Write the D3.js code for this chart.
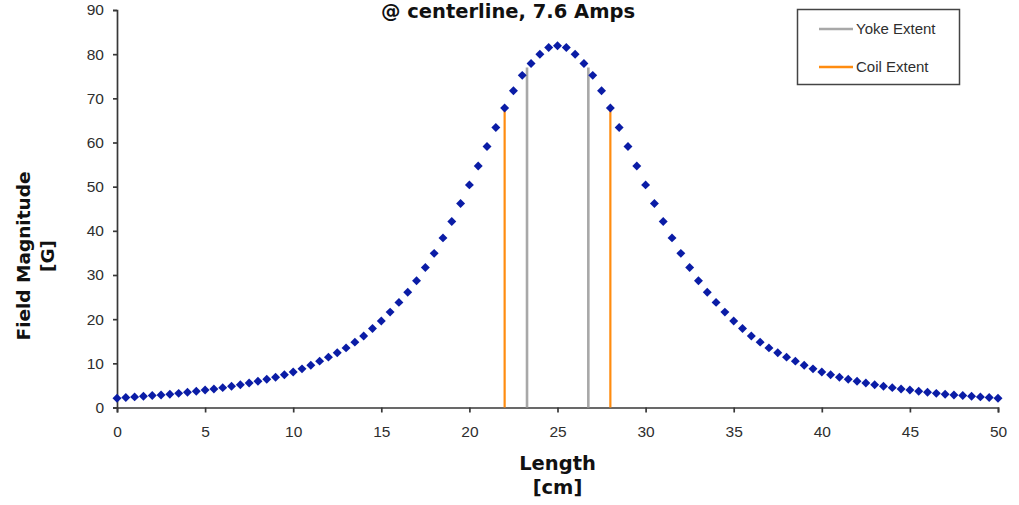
<!DOCTYPE html>
<html>
<head>
<meta charset="utf-8">
<script src="https://cdn.jsdelivr.net/npm/d3@7"></script>
<style>
  html, body { margin: 0; padding: 0; background: #fff; }
  svg { display: block; }
</style>
</head>
<body>
<svg id="chart" width="1019" height="505"></svg>
<script>
// ---- data ----
const lengthCm = [
  0, 0.5, 1, 1.5, 2, 2.5, 3, 3.5, 4, 4.5, 5, 5.5, 6, 6.5, 7, 7.5, 8, 8.5, 9, 9.5,
  10, 10.5, 11, 11.5, 12, 12.5, 13, 13.5, 14, 14.5, 15, 15.5, 16, 16.5, 17, 17.5, 18, 18.5, 19, 19.5,
  20, 20.5, 21, 21.5, 22, 22.5, 23, 23.5, 24, 24.5, 25, 25.5, 26, 26.5, 27, 27.5, 28, 28.5, 29, 29.5,
  30, 30.5, 31, 31.5, 32, 32.5, 33, 33.5, 34, 34.5, 35, 35.5, 36, 36.5, 37, 37.5, 38, 38.5, 39, 39.5,
  40, 40.5, 41, 41.5, 42, 42.5, 43, 43.5, 44, 44.5, 45, 45.5, 46, 46.5, 47, 47.5, 48, 48.5, 49, 49.5, 50
];
const fieldG = [
  2.1, 2.25, 2.4, 2.55, 2.7, 2.85, 3.0, 3.2, 3.45, 3.7, 3.95, 4.2, 4.5, 4.8, 5.15, 5.55, 5.95, 6.4, 6.85, 7.4,
  8.05, 8.75, 9.55, 10.5, 11.4, 12.4, 13.5, 14.8, 16.2, 17.9, 19.6, 21.6, 23.8, 26.1, 28.7, 31.7, 34.9, 38.4, 42.1, 46.2,
  50.4, 54.7, 59.1, 63.4, 67.8, 71.7, 75.2, 77.9, 80.0, 81.5, 81.9, 81.5, 80.0, 77.9, 75.2, 71.7, 67.8, 63.4, 59.1, 54.7,
  50.4, 46.2, 42.1, 38.4, 34.9, 31.7, 28.7, 26.1, 23.8, 21.6, 19.6, 17.9, 16.2, 14.8, 13.5, 12.4, 11.4, 10.5, 9.55, 8.75,
  8.05, 7.4, 6.85, 6.4, 5.95, 5.55, 5.15, 4.8, 4.5, 4.2, 3.95, 3.7, 3.45, 3.2, 3.0, 2.85, 2.7, 2.55, 2.4, 2.25, 2.1
];
const yokeExtentX = [23.27, 26.75];
const yokeExtentTop = [77.0, 77.0];
const coilExtentX = [22.0, 28.0];
const coilExtentTop = [67.5, 67.5];
const xTicks = [0, 5, 10, 15, 20, 25, 30, 35, 40, 45, 50];
const yTicks = [0, 10, 20, 30, 40, 50, 60, 70, 80, 90];
const legendLabels = ["Yoke Extent", "Coil Extent"];
const titleText = "@ centerline, 7.6 Amps";
const xTitle = ["Length", "[cm]"];
const yTitle = ["Field Magnitude", "[G]"];

// ---- drawing ----
const svg = d3.select("#chart");
const x = d3.scaleLinear().domain([0, 50]).range([117, 998]);
const y = d3.scaleLinear().domain([0, 90]).range([407.5, 10]);

const axisColor = "#383838";
const textColor = "#2e2e2e";
const pointColor = "#0a1ca6";
const yokeColor = "#a8a8a8";
const coilColor = "#ff8c10";

// x axis
const gx = svg.append("g").attr("transform", `translate(0,${y(0)})`)
  .call(d3.axisBottom(x).tickValues(xTicks).tickSize(5).tickPadding(13).tickFormat(d3.format("d")));
// y axis
const gy = svg.append("g").attr("transform", `translate(${x(0)},0)`)
  .call(d3.axisLeft(y).tickValues(yTicks).tickSize(4).tickPadding(9).tickFormat(d3.format("d")));
[gx, gy].forEach(g => {
  g.select(".domain").attr("stroke", axisColor).attr("stroke-width", 1.7);
  g.selectAll(".tick line").attr("stroke", axisColor).attr("stroke-width", 1.7);
  g.selectAll(".tick text").attr("fill", textColor)
    .style("font-family", "'Liberation Sans', Arial, sans-serif").style("font-size", "15.5px");
});

// extent lines
const extents = [
  { xs: yokeExtentX, tops: yokeExtentTop, color: yokeColor, w: 2.6 },
  { xs: coilExtentX, tops: coilExtentTop, color: coilColor, w: 2.2 }
];
extents.forEach(e => {
  e.xs.forEach((xv, i) => {
    svg.append("line")
      .attr("x1", x(xv)).attr("x2", x(xv))
      .attr("y1", y(0)).attr("y2", y(e.tops[i]))
      .attr("stroke", e.color).attr("stroke-width", e.w);
  });
});

// points (diamonds)
const diamond = d3.symbol().type(d3.symbolSquare).size(40);
svg.append("g").selectAll("path")
  .data(lengthCm.map((l, i) => [l, fieldG[i]]))
  .join("path")
  .attr("d", diamond)
  .attr("transform", d => `translate(${x(d[0])},${y(d[1])}) rotate(45)`)
  .attr("fill", pointColor);

// title
svg.append("text")
  .attr("x", 508).attr("y", 18)
  .attr("text-anchor", "middle")
  .style("font-family", "'DejaVu Sans', Verdana, sans-serif")
  .style("font-weight", "bold").style("font-size", "19.5px")
  .attr("fill", "#111")
  .text(titleText);

// x title
xTitle.forEach((t, i) => {
  svg.append("text")
    .attr("x", (x(0) + x(50)) / 2).attr("y", 470 + i * 24)
    .attr("text-anchor", "middle")
    .style("font-family", "'DejaVu Sans', Verdana, sans-serif")
    .style("font-weight", "bold").style("font-size", "19.5px")
    .attr("fill", "#111")
    .text(t);
});

// y title
yTitle.forEach((t, i) => {
  svg.append("text")
    .attr("transform", `translate(${30 + i * 24},256) rotate(-90)`)
    .attr("text-anchor", "middle")
    .style("font-family", "'DejaVu Sans', Verdana, sans-serif")
    .style("font-weight", "bold").style("font-size", "18.5px")
    .attr("fill", "#111")
    .text(t);
});

// legend
const lg = svg.append("g");
lg.append("rect").attr("x", 797.5).attr("y", 9.5).attr("width", 162).attr("height", 75)
  .attr("fill", "#fff").attr("stroke", "#444").attr("stroke-width", 1.5);
const legendColors = [yokeColor, coilColor];
legendLabels.forEach((lab, i) => {
  const ly = 29 + i * 38;
  lg.append("line").attr("x1", 819).attr("x2", 853).attr("y1", ly).attr("y2", ly)
    .attr("stroke", legendColors[i]).attr("stroke-width", 2.4);
  lg.append("text").attr("x", 856).attr("y", ly + 5)
    .style("font-family", "'Liberation Sans', Arial, sans-serif").style("font-size", "15px")
    .attr("fill", textColor).text(lab);
});
</script>
</body>
</html>
